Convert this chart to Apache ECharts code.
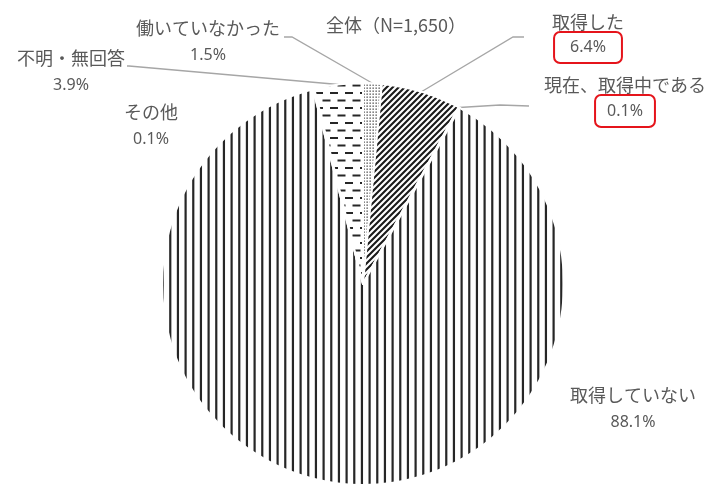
<!DOCTYPE html>
<html><head><meta charset="utf-8">
<script src="https://cdn.jsdelivr.net/npm/echarts@6/dist/echarts.min.js"></script>
<style>html,body{margin:0;padding:0;background:#fff}#c{width:713px;height:487px}</style>
</head><body><div id="c"></div>
<script>
// ---- data ----
var titleText = '全体（N=1,650）';
var categories = ['働いていなかった', '取得した', '現在、取得中である', '取得していない', 'その他', '不明・無回答'];
var values = [1.5, 6.4, 0.1, 88.1, 0.1, 3.9];
var boxStyle = ['', 'pbA', 'pbB', '', '', ''];

// ---- layout/style constants ----
var labelPos = [[208, 15], [588, 12], [625, 75], [633, 382], [151, 99], [71, 45]];
var lineEnds = [[[292, 37], [284, 37]], [[513, 37], [524, 37]], [[500, 105], [529, 106]], null, null, [[129, 66], [127, 66]]];
var TXT = '#595959';

function makePattern(w, h, draw) {
  var c = document.createElement('canvas');
  c.width = w; c.height = h;
  var g = c.getContext('2d');
  g.fillStyle = '#fff'; g.fillRect(0, 0, w, h);
  draw(g);
  return { image: c, repeat: 'repeat' };
}
var pVert = makePattern(23, 4, function (g) {
  g.fillStyle = '#262626';
  [0.5, 8.17, 15.83].forEach(function (x) { g.fillRect(x, 0, 2.2, 4); });
});
var pDiag = makePattern(6, 6, function (g) {
  g.strokeStyle = '#1a1a1a'; g.lineWidth = 2.1;
  g.beginPath();
  g.moveTo(-1, 7); g.lineTo(7, -1);
  g.moveTo(-4, 4); g.lineTo(4, -4);
  g.moveTo(2, 10); g.lineTo(10, 2);
  g.stroke();
});
var pDash = makePattern(15, 15, function (g) {
  g.fillStyle = '#262626';
  g.fillRect(0, 2, 8, 2);
  g.fillRect(7.5, 9.5, 8, 2);
  g.fillRect(-0.5, 9.5, 1, 2);
});
var pDot = makePattern(3, 3, function (g) {
  g.fillStyle = '#404040';
  g.fillRect(0.5, 0.5, 1.3, 1.3);
});
var patterns = [pDot, pDiag, pVert, pVert, pVert, pDash];

var data = categories.map(function (name, i) {
  var b = boxStyle[i];
  return {
    name: name, value: values[i],
    itemStyle: { color: patterns[i] },
    label: {
      formatter: b ? '{nb|{b}}\n{' + b + '|{c}%}' : '{n|{b}}\n{p|{c}%}'
    },
    labelLine: { show: !!lineEnds[i] }
  };
});

var boxBase = { fontFamily: 'Noto Sans', fontSize: 16, color: TXT,
  borderColor: '#e5141b', borderWidth: 2, borderRadius: 6 };

var chart = echarts.init(document.getElementById('c'), null, { renderer: 'canvas' });
chart.setOption({
  animation: false,
  backgroundColor: '#fff',
  title: {
    text: titleText, left: 321, top: 11,
    textStyle: { fontFamily: 'Noto Sans CJK JP', fontSize: 18, fontWeight: 'normal', color: TXT }
  },
  series: [{
    type: 'pie',
    center: [363, 284],
    radius: [0, 201],
    startAngle: 90,
    clockwise: true,
    silent: true,
    avoidLabelOverlap: false,
    itemStyle: { borderColor: '#fff', borderWidth: 2 },
    emphasis: { disabled: true },
    label: {
      show: true, position: 'outside',
      rich: {
        n: { fontFamily: 'Noto Sans CJK JP', fontSize: 18, color: TXT, lineHeight: 27 },
        p: { fontFamily: 'Noto Sans', fontSize: 16, color: TXT, lineHeight: 27 },
        nb: { fontFamily: 'Noto Sans CJK JP', fontSize: 18, color: TXT, lineHeight: 20 },
        pbA: Object.assign({}, boxBase, { height: 31, lineHeight: 31, padding: [0, 16] }),
        pbB: Object.assign({}, boxBase, { height: 32, lineHeight: 32, padding: [0, 12] })
      }
    },
    labelLine: { show: true, lineStyle: { color: '#a6a6a6', width: 1.3 } },
    labelLayout: function (p) {
      var pos = labelPos[p.dataIndex];
      var res = { x: pos[0], y: pos[1], align: 'center', verticalAlign: 'top' };
      var le = lineEnds[p.dataIndex];
      if (le && p.labelLinePoints) {
        res.labelLinePoints = [p.labelLinePoints[0], le[0], le[1]];
      }
      return res;
    },
    data: data
  }]
});
</script>
</body></html>
